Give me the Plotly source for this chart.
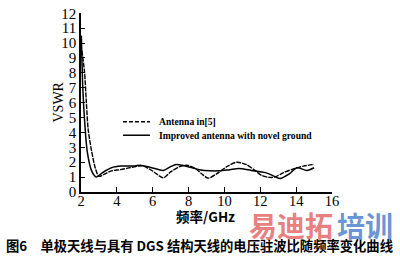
import plotly.graph_objects as go

# Antenna in[5] (dashed)
freq_ref = [2.05, 2.2, 2.3, 2.4, 2.6, 2.8, 3.0, 3.3, 3.7, 4.2, 4.6, 5.2, 5.5, 6.0, 6.6, 7.0,
            7.5, 7.9, 8.4, 8.8, 9.1, 9.6, 10.2, 10.7, 11.2, 11.7, 12.1, 12.5, 12.8, 13.3,
            13.9, 14.4, 15.0]
vswr_ref = [9.5, 8.0, 6.0, 4.2, 2.7, 1.6, 1.05, 1.2, 1.42, 1.5, 1.6, 1.74, 1.74, 1.4, 0.95, 1.35,
            1.7, 1.8, 1.56, 1.15, 0.93, 1.25, 1.75, 2.0, 1.85, 1.45, 1.1, 0.98, 1.0, 1.3,
            1.57, 1.74, 1.85]

# Improved antenna with novel ground (solid)
freq_new = [2.02, 2.1, 2.2, 2.35, 2.6, 2.85, 3.2, 3.7, 4.25, 5.0, 5.3, 5.9, 6.6, 7.0, 7.3,
            7.8, 8.6, 9.2, 9.7, 10.3, 10.8, 11.5, 12.3, 12.8, 13.1, 13.6, 14.05, 14.6, 15.0]
vswr_new = [10.5, 7.0, 4.8, 2.7, 1.4, 1.0, 1.3, 1.63, 1.74, 1.75, 1.8, 1.65, 1.45, 1.7, 1.85,
            1.75, 1.5, 1.42, 1.42, 1.5, 1.57, 1.45, 1.3, 1.05, 0.9, 1.2, 1.63, 1.45, 1.63]

x_ticks = [2, 4, 6, 8, 10, 12, 14, 16]
y_ticks = list(range(0, 13))
legend_names = ["Antenna in[5]", "Improved antenna with novel ground"]

W, H = 400, 258
L, R, T, B = 81, 68, 6, 66
Y_TOP = 12.02

serif = "Liberation Serif, Times New Roman, serif"
cjk = "Noto Sans CJK SC"

fig = go.Figure()
fig.add_trace(go.Scatter(x=freq_ref, y=vswr_ref, mode="lines", name=legend_names[0],
                         line=dict(color="black", width=1.4, dash="5px,1px", shape="spline", smoothing=0.8),
                         showlegend=False))
fig.add_trace(go.Scatter(x=freq_new, y=vswr_new, mode="lines", name=legend_names[1],
                         line=dict(color="black", width=1.5, shape="spline", smoothing=0.8),
                         showlegend=False))

def px_x(p):
    return (p - L) / (W - L - R)

def px_y(p):
    return 1 - (p - T) / (H - T - B)

shapes = []
annotations = []
rows = [(119, "4px,2px"), (133, "solid")]
for (yy, dash), name in zip(rows, legend_names):
    shapes.append(dict(type="line", xref="paper", yref="paper",
                       x0=px_x(123), x1=px_x(150), y0=px_y(yy), y1=px_y(yy),
                       line=dict(color="black", width=1.5, dash=dash)))
    annotations.append(dict(text=name, xref="paper", yref="paper", x=px_x(157), y=px_y(yy),
                            xanchor="left", yanchor="middle", showarrow=False,
                            font=dict(family=serif, size=9.6, color="black", weight="bold")))

# axis titles
annotations.append(dict(text="<b>频率/GHz</b>", xref="paper", yref="paper", x=px_x(205), y=px_y(217),
                        xanchor="center", yanchor="middle", showarrow=False,
                        font=dict(family=cjk, size=13.5, color="black")))
annotations.append(dict(text="VSWR", xref="paper", yref="paper", x=px_x(58), y=px_y(99),
                        xanchor="center", yanchor="middle", showarrow=False, textangle=-90,
                        font=dict(family=serif, size=14, color="black")))
# caption
annotations.append(dict(text="图6　单极天线与具有 DGS 结构天线的电压驻波比随频率变化曲线",
                        xref="paper", yref="paper", x=px_x(4), y=px_y(248),
                        xanchor="left", yanchor="middle", showarrow=False,
                        font=dict(family=cjk, size=13.3, color="black", weight="bold")))
# watermark
annotations.append(dict(text="易迪拓", xref="paper", yref="paper", x=px_x(247), y=px_y(226),
                        xanchor="left", yanchor="middle", showarrow=False,
                        font=dict(family=cjk, size=28, color="rgba(228,105,105,0.85)", weight="bold")))
annotations.append(dict(text="培训", xref="paper", yref="paper", x=px_x(335), y=px_y(226),
                        xanchor="left", yanchor="middle", showarrow=False,
                        font=dict(family=cjk, size=28, color="rgba(80,130,205,0.85)", weight="bold")))

fig.update_layout(
    width=W, height=H,
    margin=dict(l=L, r=R, t=T, b=B, pad=0),
    paper_bgcolor="white", plot_bgcolor="white",
    shapes=shapes, annotations=annotations,
    xaxis=dict(range=[2, 16], tickvals=x_ticks, ticktext=[str(v) for v in x_ticks],
               ticks="inside", ticklen=5, tickwidth=1.3, tickcolor="black", ticklabelstandoff=-5,
               ticklabeloverflow="allow",
               showline=True, linecolor="black", linewidth=1.6, showgrid=False, zeroline=False,
               tickfont=dict(family=serif, size=14.5, color="black")),
    yaxis=dict(range=[0, Y_TOP], tickvals=y_ticks, ticktext=[str(v) for v in y_ticks],
               ticks="inside", ticklen=4, tickwidth=1.3, tickcolor="black",
               ticklabeloverflow="allow",
               showline=True, linecolor="black", linewidth=1.6, showgrid=False, zeroline=False,
               tickfont=dict(family=serif, size=15, color="black")),
)

fig.write_html("out.html")
